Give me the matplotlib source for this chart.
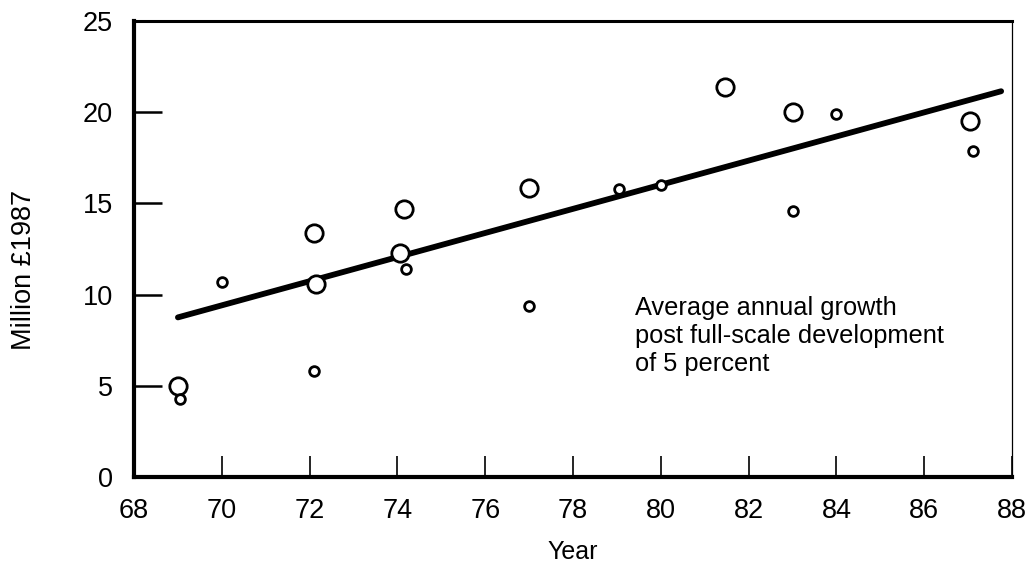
import matplotlib
matplotlib.use("Agg")
import matplotlib.pyplot as plt

plt.rcParams['font.family'] = ['Liberation Sans', 'DejaVu Sans']

# large circles
big_year = [69, 72.1, 72.15, 74.15, 74.05, 77.0, 81.45, 83.0, 87.05]
big_value = [5.0, 13.4, 10.6, 14.7, 12.3, 15.85, 21.4, 20.0, 19.5]

# small circles
small_year = [69.05, 70.0, 72.1, 74.2, 77.0, 79.05, 80.0, 83.0, 84.0, 87.1]
small_value = [4.3, 10.7, 5.8, 11.4, 9.4, 15.8, 16.0, 14.6, 19.9, 17.9]

# trend line (5 percent growth)
trend_year = [69.0, 87.75]
trend_value = [8.75, 21.15]

years = [68, 70, 72, 74, 76, 78, 80, 82, 84, 86, 88]
values = [0, 5, 10, 15, 20, 25]

fig = plt.figure(figsize=(10.27, 5.65), dpi=100)
ax = fig.add_axes([0.1305, 0.1558, 0.855, 0.807])

ax.plot(trend_year, trend_value, color='black', lw=4.2, solid_capstyle='round')
ax.plot(big_year, big_value, 'o', ms=12.5, mfc='white', mec='black', mew=2.0)
ax.plot(small_year, small_value, 'o', ms=7, mfc='white', mec='black', mew=2.0)

ax.text(79.4, 9.95, "Average annual growth\npost full-scale development\nof 5 percent",
        fontsize=18.3, va='top', ha='left', linespacing=1.22)

ax.set_xlim(68, 88)
ax.set_ylim(0, 25)
ax.set_xticks(years)
ax.set_xticklabels([str(y) for y in years])
ax.set_yticks(values)

ax.tick_params(axis='x', direction='in', length=15, width=1.2, pad=15, labelsize=19.5)
ax.tick_params(axis='y', direction='in', length=20, width=1.8, pad=15, labelsize=19.5)

ax.spines['left'].set_linewidth(3)
ax.spines['bottom'].set_linewidth(3)
ax.spines['top'].set_linewidth(2.2)
ax.spines['right'].set_linewidth(0.9)

ax.set_xlabel("Year", fontsize=18, labelpad=12)
ax.set_ylabel("Million £1987", fontsize=19.5)
ax.yaxis.set_label_coords(-0.110, 0.454)

fig.savefig("out.png", dpi=100)
